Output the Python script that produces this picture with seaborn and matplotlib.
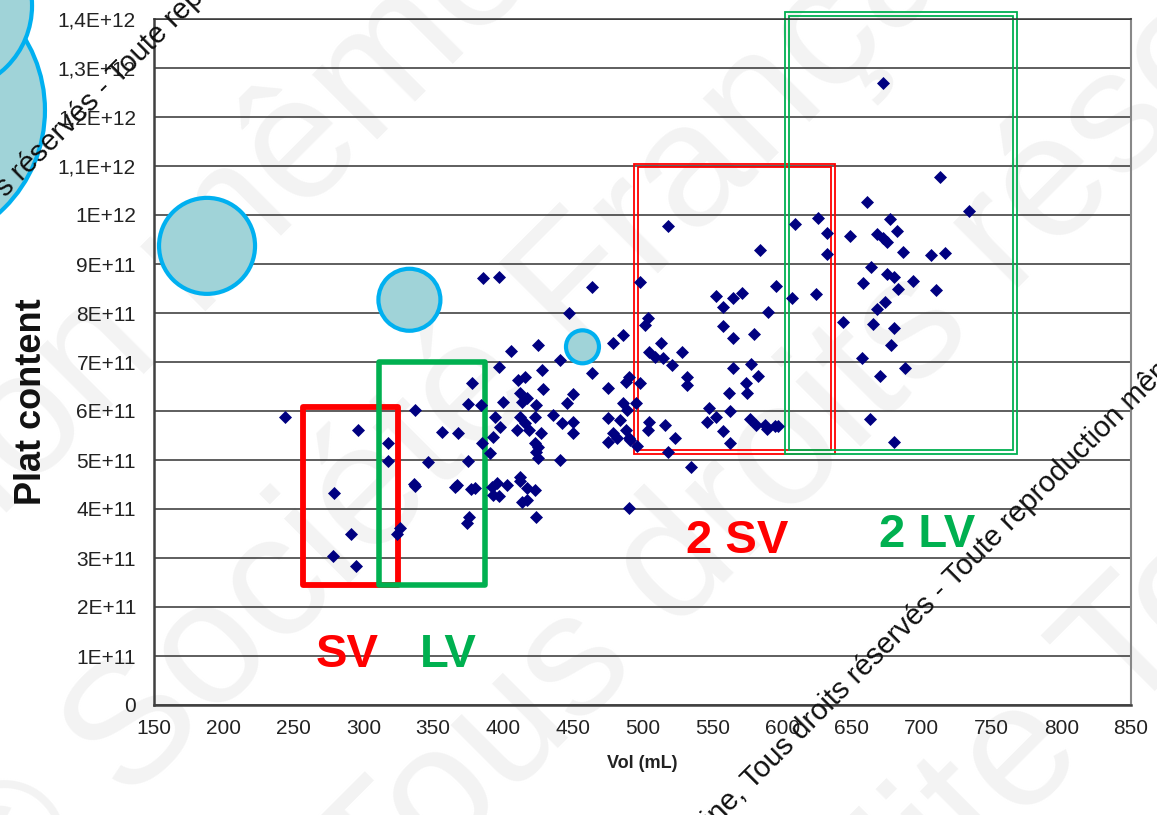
import numpy as np
import pandas as pd
import seaborn as sns
import matplotlib.pyplot as plt
from matplotlib.patches import Rectangle

# volume (mL) of each sample and plateau content (in units of 1E+11)
vol = [244, 296, 318, 318, 279, 336, 337, 291, 326, 324, 278, 295,
       386, 397, 406, 397, 378, 411, 416, 375, 384, 400, 356, 368,
       385, 394, 398, 393, 391, 346, 375, 337, 366, 377, 380, 396,
       393, 397, 403, 412, 417, 423, 376, 374, 392, 414, 424, 464,
       447, 425, 441, 428, 464, 479, 486, 429, 450, 475, 488, 490,
       498, 412, 417, 414, 424, 446, 486, 495, 412, 410, 416, 423,
       419, 427, 423, 424, 436, 442, 450, 450, 475, 484, 488, 479,
       490, 475, 482, 505, 516, 504, 523, 518, 425, 441, 367, 412,
       425, 417, 490, 491, 489,
       518, 584, 498, 596, 553, 565, 571, 558, 590, 504, 502, 558,
       565, 580, 513, 505, 509, 515, 521, 528, 532, 532, 565, 578,
       583, 562, 574, 575, 548, 553, 546, 563, 558, 563, 577, 581,
       588, 595, 597, 589, 496, 535,
       672, 713, 734, 661, 626, 609, 632, 632, 649, 677, 682, 668,
       672, 675, 687, 707, 717, 664, 658, 675, 680, 683, 694, 710,
       607, 624, 674, 668, 644, 665, 680, 678, 657, 688, 670, 663,
       680]
plat = [5.88, 5.61, 5.35, 4.98, 4.33, 4.51, 6.02, 3.49, 3.61, 3.49, 3.04, 2.84,
        8.71, 8.73, 7.22, 6.90, 6.57, 6.63, 6.69, 6.14, 6.12, 6.18, 5.57, 5.55,
        5.35, 5.88, 5.67, 5.47, 5.14, 4.96, 4.98, 4.47, 4.45, 4.41, 4.43, 4.53,
        4.29, 4.27, 4.49, 4.57, 4.42, 4.39, 3.84, 3.71, 4.45, 4.14, 3.84, 8.53,
        8.00, 7.35, 7.04, 6.84, 6.78, 7.39, 7.55, 6.45, 6.35, 6.47, 6.59, 6.69,
        6.57, 6.37, 6.27, 6.18, 6.12, 6.16, 6.16, 6.16, 5.88, 5.61, 5.76, 5.88,
        5.61, 5.55, 5.35, 5.16, 5.92, 5.76, 5.78, 5.55, 5.86, 5.82, 5.61, 5.55,
        5.45, 5.37, 5.45, 5.78, 5.71, 5.61, 5.45, 5.16, 5.04, 5.00, 4.49, 4.65,
        5.27, 4.18, 4.02, 5.41, 6.02,
        9.78, 9.29, 8.63, 8.55, 8.35, 8.31, 8.41, 8.12, 8.02, 7.90, 7.76, 7.73,
        7.49, 7.57, 7.39, 7.20, 7.10, 7.08, 6.94, 7.20, 6.69, 6.53, 6.88, 6.96,
        6.71, 6.37, 6.57, 6.37, 6.06, 5.88, 5.78, 6.00, 5.59, 5.35, 5.84, 5.71,
        5.71, 5.69, 5.69, 5.63, 5.29, 4.86,
        12.69, 10.78, 10.08, 10.27, 9.94, 9.82, 9.63, 9.20, 9.57, 9.92, 9.67, 9.61,
        9.53, 9.45, 9.24, 9.18, 9.22, 8.94, 8.61, 8.80, 8.73, 8.49, 8.65, 8.47,
        8.31, 8.39, 8.22, 8.08, 7.82, 7.78, 7.69, 7.35, 7.08, 6.88, 6.71, 5.84,
        5.37]

# bubbles (volume, plateau content in 1E+11, diameter in px)
bub_vol = [-27, 1, 188, 333, 457]
bub_plat = [12.14, 14.27, 9.37, 8.27, 7.31]
bub_diam = [276, 172, 96, 62, 33]

ytick_vals = list(range(0, 15))
ytick_labels = ['0', '1E+11', '2E+11', '3E+11', '4E+11', '5E+11', '6E+11',
                '7E+11', '8E+11', '9E+11', '1E+12', '1,1E+12', '1,2E+12',
                '1,3E+12', '1,4E+12']
xtick_vals = list(range(150, 851, 50))

E11 = 1e11
df = pd.DataFrame({'Vol (mL)': vol, 'Plat content': np.array(plat) * E11})

sns.set_style('white')
plt.rcParams['font.family'] = ['Liberation Sans', 'DejaVu Sans']

W, H = 1157, 815
fig = plt.figure(figsize=(W / 100, H / 100), dpi=100)
ax = fig.add_axes([154 / W, 110 / H, 977 / W, 686 / H])
ax.patch.set_alpha(0)

# faint background watermark (pixel anchors of the text baselines)
wm = dict(rotation=45, rotation_mode='anchor', va='baseline', fontsize=126,
          color='#f3f3f3', zorder=-5)
fig.text(198 / W, 1 - 320 / H, 'même partielle', ha='left', **wm)
fig.text(198 / W, 1 - 320 / H, 'reproduction ', ha='right', **wm)
fig.text(2 / W, 1 - 930 / H, '© Société Française', ha='left', **wm)
fig.text(378 / W, 1 - 929 / H, 'Tous droits réservés', ha='left', **wm)
fig.text(1122 / W, 1 - 721 / H, 'Toute', ha='left', **wm)
fig.text(1122 / W, 1 - 721 / H, 'interdite ', ha='right', **wm)

# boxes
red = '#FF0000'
green = '#00B050'
ax.add_patch(Rectangle((257, 2.45 * E11), 325 - 257, (6.08 - 2.45) * E11, fill=False,
                       ec=red, lw=4.2, joinstyle='round', zorder=2))
ax.add_patch(Rectangle((311, 2.45 * E11), 387 - 311, (7.0 - 2.45) * E11, fill=False,
                       ec=green, lw=4.0, joinstyle='round', zorder=2))
# double-line boxes
for (x0, x1, y0, y1, c) in [(494, 638, 5.13, 11.05, red), (602, 768, 5.12, 14.14, green)]:
    ax.add_patch(Rectangle((x0, y0 * E11), x1 - x0, (y1 - y0) * E11, fill=False,
                           ec=c, lw=1.3, zorder=2, clip_on=False))
    ax.add_patch(Rectangle((x0 + 2.9, (y0 + 0.08) * E11), x1 - x0 - 5.8,
                           (y1 - y0 - 0.16) * E11, fill=False, ec=c, lw=1.3,
                           zorder=2, clip_on=False))

sns.scatterplot(data=df, x='Vol (mL)', y='Plat content', marker='D', color='#000080',
                s=44, linewidth=0, ax=ax, zorder=3)

ax.scatter(bub_vol, np.array(bub_plat) * E11, s=(np.array(bub_diam) * 0.72) ** 2,
           facecolor='#A0D3D8', edgecolor='#00B0F0', linewidth=3.0, zorder=4,
           clip_on=False)

ax.text(288.6, 0.78 * E11, 'SV', color=red, fontsize=34, fontweight='bold', ha='center', va='baseline')
ax.text(361, 0.78 * E11, 'LV', color=green, fontsize=34, fontweight='bold', ha='center', va='baseline')
ax.text(568, 3.10 * E11, '2 SV', color=red, fontsize=34, fontweight='bold', ha='center', va='baseline')
ax.text(704, 3.22 * E11, '2 LV', color=green, fontsize=34, fontweight='bold', ha='center', va='baseline')

ax.set_xlim(150, 850)
ax.set_ylim(0, 14 * E11)
ax.set_xticks(xtick_vals)
ax.set_yticks(np.array(ytick_vals) * E11)
ax.set_yticklabels(ytick_labels)
ax.tick_params(axis='both', direction='out', length=5, width=1.2, color='#404040',
               labelsize=15, labelcolor='#222222')
ax.tick_params(axis='y', pad=8)
ax.tick_params(axis='x', pad=5)
ax.yaxis.grid(True, color='#333333', lw=1.1, zorder=0)
ax.set_axisbelow(True)
for side in ['left', 'bottom']:
    ax.spines[side].set_color('#404040')
    ax.spines[side].set_linewidth(1.8)
ax.spines['right'].set_color('#888888')
ax.spines['right'].set_linewidth(1.5)
ax.spines['top'].set_color('#333333')
ax.spines['top'].set_linewidth(1.1)

ax.set_xlabel('Vol (mL)', fontsize=13, fontweight='bold', color='#222222')
ax.set_ylabel('Plat content', fontsize=26, fontweight='bold', color='#111111')
ax.xaxis.set_label_coords(0.5, -0.073)
ax.yaxis.set_label_coords(-0.1075, 0.442)

# copyright notices
fig.text(0.0, 1 - 192 / H, 's réservés - Toute reproduction même partielle',
         rotation=45, rotation_mode='anchor', ha='left', va='center', fontsize=21,
         color='#111111')
fig.text(708 / W, 1 - 823 / H, 'ine, Tous droits réservés - Toute reproduction même partielle',
         rotation=45, rotation_mode='anchor', ha='left', va='center', fontsize=21,
         color='#111111')

fig.savefig('out.png', dpi=100)
